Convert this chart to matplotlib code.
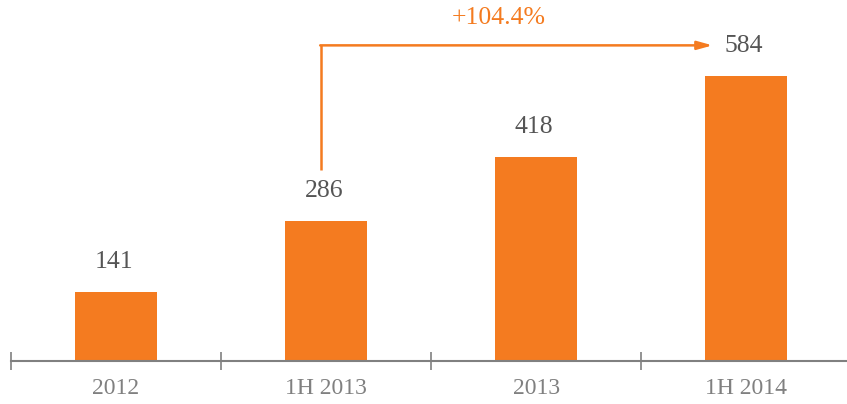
import matplotlib.pyplot as plt

categories = ["2012", "1H 2013", "2013", "1H 2014"]
values = [141, 286, 418, 584]
growth_label = "+104.4%"

ORANGE = "#F47B20"
GRAY = "#808080"
TEXT = "#555555"

plt.rcParams["font.family"] = ["Liberation Serif", "DejaVu Serif"]

fig = plt.figure(figsize=(8.47, 4.04), dpi=100)
ax = fig.add_axes([11 / 847, 43 / 404, 836 / 847, 361 / 404])

x = list(range(len(categories)))
ax.bar(x, values, width=0.39, color=ORANGE, zorder=2)

for xi, v in zip(x, values):
    ax.text(xi - 0.01, v + 62, f"{v}", ha="center", va="center", fontsize=18.5, color=TEXT)

ax.set_xlim(-0.5, 3.48)
ax.set_ylim(0, 740)

for side in ("top", "right", "left"):
    ax.spines[side].set_visible(False)
ax.spines["bottom"].set_color(GRAY)
ax.spines["bottom"].set_linewidth(1.5)
ax.set_yticks([])

# boundary ticks between categories, crossing the baseline
ax.set_xticks([-0.5, 0.5, 1.5, 2.5])
ax.set_xticklabels([])
ax.tick_params(axis="x", direction="inout", length=13, width=1.2, color=GRAY)

for xi, c in zip(x, categories):
    ax.text(xi, -56, c, ha="center", va="center", fontsize=17, color=GRAY, clip_on=False)

# growth arrow from 1H 2013 to 1H 2014
ax.plot([0.976, 0.976], [391, 647], color=ORANGE, lw=1.8, solid_capstyle="butt")
ax.annotate("", xy=(2.84, 647), xytext=(0.972, 647),
            arrowprops=dict(arrowstyle="-|>,head_length=0.9,head_width=0.25",
                            color=ORANGE, lw=1.8, shrinkA=0, shrinkB=0))
ax.text(1.82, 703, growth_label, ha="center", va="center", fontsize=18.5, color=ORANGE)

fig.savefig("out.png", dpi=100)
